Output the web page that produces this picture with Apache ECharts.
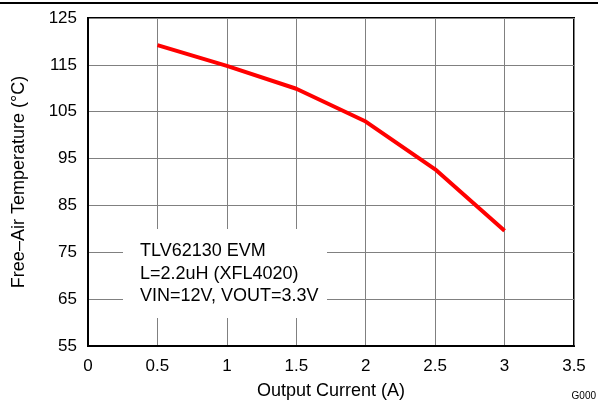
<!DOCTYPE html>
<html>
<head>
<meta charset="utf-8">
<script src="https://cdn.jsdelivr.net/npm/echarts@6/dist/echarts.min.js"></script>
<style>
html,body{margin:0;padding:0;background:#fff;}
#c{width:598px;height:402px;}
</style>
</head>
<body>
<div id="c"></div>
<script>
const currentA = [0.5, 1, 1.5, 2, 2.5, 3];
const temperatureC = [119.2, 114.8, 109.9, 102.9, 92.7, 79.6];
const xTitle = 'Output Current (A)';
const yTitle = 'Free\u2013Air Temperature (\u00B0C)';
const noteLines = ['TLV62130 EVM', 'L=2.2uH (XFL4020)', 'VIN=12V, VOUT=3.3V'];
const figId = 'G000';

const FONT = '"Liberation Sans", Arial, sans-serif';
const chart = echarts.init(document.getElementById('c'), null, {renderer: 'canvas'});
const data = currentA.map((x, i) => [x, temperatureC[i]]);

chart.setOption({
  animation: false,
  backgroundColor: '#fff',
  grid: {left: 88, right: 24, top: 18, bottom: 56, show: true, borderColor: '#000', borderWidth: 2,
         containLabel: false, outerBoundsMode: 'none'},
  xAxis: {
    type: 'value', min: 0, max: 3.5, interval: 0.5,
    name: xTitle, nameLocation: 'middle', nameGap: 36,
    nameTextStyle: {color: '#000', fontSize: 18, fontFamily: FONT},
    axisLine: {show: true, lineStyle: {color: '#000', width: 2}},
    axisTick: {show: false},
    axisLabel: {color: '#000', fontSize: 17, fontFamily: FONT, margin: 12},
    splitLine: {show: true, lineStyle: {color: '#808080', width: 1}}
  },
  yAxis: {
    type: 'value', min: 55, max: 125, interval: 10,
    name: yTitle, nameLocation: 'middle', nameGap: 60, nameRotate: 90,
    nameTextStyle: {color: '#000', fontSize: 18, fontFamily: FONT},
    axisLine: {show: true, lineStyle: {color: '#000', width: 2}},
    axisTick: {show: false},
    axisLabel: {color: '#000', fontSize: 17, fontFamily: FONT, margin: 11, padding: [3, 0, 0, 0]},
    splitLine: {show: true, lineStyle: {color: '#808080', width: 1}}
  },
  series: [{
    type: 'line', data: data, showSymbol: false, symbol: 'none',
    lineStyle: {color: '#ff0000', width: 4}, z: 3
  }],
  graphic: [
    {type: 'line', shape: {x1: 0, y1: 3, x2: 598, y2: 3}, style: {stroke: '#000', lineWidth: 2}, z: 10},
    {type: 'rect', shape: {x: 123, y: 229, width: 204, height: 89}, style: {fill: '#fff'}, z: 5},
    {type: 'text', left: 140, top: 240, z: 6, style: {text: noteLines.join('\n'), font: '18px ' + FONT, fill: '#000', lineHeight: 22.5}},
    {type: 'text', right: 2, top: 391, z: 6, style: {text: figId, font: '10px ' + FONT, fill: '#000'}}
  ]
});
</script>
</body>
</html>
